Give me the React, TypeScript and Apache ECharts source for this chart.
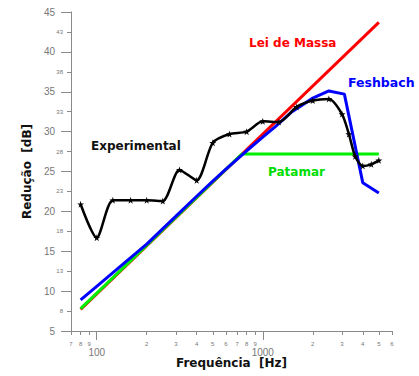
import React, { useEffect, useRef } from "react";
import * as echarts from "echarts";

// Experimental curve (Hz, dB)
const freqExp = [80, 100, 125, 160, 200, 250, 315, 400, 500, 630, 800, 1000, 1250, 1600, 2000, 2500, 3000, 3300, 3600, 4000, 4500, 5000];
const dbExp = [20.9, 16.7, 21.4, 21.4, 21.4, 21.3, 25.2, 23.9, 28.6, 29.7, 30.0, 31.3, 31.2, 33.1, 33.9, 34.1, 32.2, 29.7, 26.9, 25.7, 25.9, 26.4];

// Mass law
const freqMass = [80, 5000];
const dbMass = [7.7, 43.7];

// Plateau model
const freqPlat = [80, 750, 5000];
const dbPlat = [7.8, 27.2, 27.2];

// Feshbach model
const freqFesh = [80, 100, 150, 200, 300, 400, 500, 600, 800, 1000, 1200, 1500, 2000, 2500, 3100, 4000, 5000];
const dbFesh = [8.9, 10.6, 13.7, 15.9, 19.4, 21.9, 23.8, 25.3, 27.6, 29.3, 30.7, 32.5, 34.2, 35.1, 34.7, 23.6, 22.3];

// Axis ticks
const xMinorTicks = [70, 80, 90, 200, 300, 400, 500, 600, 700, 800, 900, 2000, 3000, 4000, 5000, 6000];
const xMajorTicks = [100, 1000];
const xMin = 70;
const xMax = 6000;
const yMajorTicks = [5, 10, 15, 20, 25, 30, 35, 40, 45];
const yMinorTicks = [7.5, 12.5, 17.5, 22.5, 27.5, 32.5, 37.5, 42.5];

const STAR = "path://M50,0 L61,35 L98,35 L68,57 L79,91 L50,70 L21,91 L32,57 L2,35 L39,35 Z";

const toPts = (f: number[], d: number[]) => f.map((v, i) => [Math.log10(v), d[i]]);

export default function App() {
  const ref = useRef<HTMLDivElement>(null);
  useEffect(() => {
    if (!ref.current) return;
    const chart = echarts.init(ref.current, null, { renderer: "svg" });
    const lmin = Math.log10(xMin);
    const lmax = Math.log10(xMax);
    const axisColor = "#8a8a8a";
    const labelColor = "#777";
    const boldFont = "DejaVu Sans";
    chart.setOption({
      animation: false,
      backgroundColor: "#fff",
      grid: { left: 71, right: 27, top: 12, bottom: 45, containLabel: false, outerBoundsMode: "none" },
      xAxis: [
        {
          type: "value",
          min: lmin,
          max: lmax,
          position: "bottom",
          splitLine: { show: false },
          axisLine: { show: true, lineStyle: { color: axisColor, width: 1 } },
          axisTick: { show: true, customValues: xMinorTicks.map(Math.log10), length: 4, lineStyle: { color: axisColor } },
          axisLabel: {
            customValues: xMinorTicks.map(Math.log10),
            formatter: (v: number) => String(Math.round(Math.pow(10, v)))[0],
            fontSize: 6,
            color: labelColor,
            margin: 10,
            fontFamily: "Liberation Sans",
          },
          name: "Frequência  [Hz]",
          nameLocation: "middle",
          nameGap: 26,
          nameTextStyle: { fontFamily: boldFont, fontWeight: "bold", fontSize: 12, color: "#111" },
        },
        {
          type: "value",
          min: lmin,
          max: lmax,
          position: "bottom",
          splitLine: { show: false },
          axisLine: { show: false },
          axisTick: { show: true, customValues: xMajorTicks.map(Math.log10), length: 9, lineStyle: { color: axisColor } },
          axisLabel: {
            customValues: xMajorTicks.map(Math.log10),
            formatter: (v: number) => String(Math.round(Math.pow(10, v))),
            fontSize: 10,
            color: labelColor,
            margin: 16,
            fontFamily: "Liberation Sans",
          },
        },
      ],
      yAxis: [
        {
          type: "value",
          min: 5,
          max: 45,
          position: "left",
          splitLine: { show: false },
          axisLine: { show: true, lineStyle: { color: axisColor, width: 1 } },
          axisTick: { show: true, customValues: yMajorTicks, length: 10, lineStyle: { color: axisColor } },
          axisLabel: {
            customValues: yMajorTicks,
            fontSize: 10,
            color: labelColor,
            margin: 16,
            fontFamily: "Liberation Sans",
          },
          name: "Redução  [dB]",
          nameLocation: "middle",
          nameGap: 37,
          nameTextStyle: { fontFamily: boldFont, fontWeight: "bold", fontSize: 12, color: "#111" },
        },
        {
          type: "value",
          min: 5,
          max: 45,
          position: "left",
          splitLine: { show: false },
          axisLine: { show: false },
          axisTick: { show: true, customValues: yMinorTicks, length: 4, lineStyle: { color: axisColor } },
          axisLabel: {
            customValues: yMinorTicks,
            formatter: (v: number) => String(Math.round(v)),
            fontSize: 6,
            color: labelColor,
            margin: 8,
            fontFamily: "Liberation Sans",
          },
        },
      ],
      series: [
        {
          name: "Lei de Massa",
          type: "line",
          data: toPts(freqMass, dbMass),
          showSymbol: false,
          lineStyle: { color: "#ff0000", width: 3 },
          z: 2,
        },
        {
          name: "Patamar",
          type: "line",
          data: toPts(freqPlat, dbPlat),
          showSymbol: false,
          lineStyle: { color: "#00ee00", width: 3 },
          z: 3,
        },
        {
          name: "Feshbach",
          type: "line",
          data: toPts(freqFesh, dbFesh),
          showSymbol: false,
          lineStyle: { color: "#0000ff", width: 3 },
          z: 4,
        },
        {
          name: "Experimental",
          type: "line",
          data: toPts(freqExp, dbExp),
          smooth: 0.25,
          symbol: STAR,
          symbolSize: 7,
          itemStyle: { color: "#000" },
          lineStyle: { color: "#000", width: 2.5 },
          z: 5,
        },
      ],
      graphic: [
        { type: "text", left: 249, top: 37, style: { text: "Lei de Massa", fill: "#ff0000", font: `bold 12px "${boldFont}"` } },
        { type: "text", left: 348, top: 76, style: { text: "Feshbach", fill: "#0000ff", font: `bold 12.5px "${boldFont}"` } },
        { type: "text", left: 91, top: 140, style: { text: "Experimental", fill: "#111", font: `bold 12px "${boldFont}"` } },
        { type: "text", left: 268, top: 166, style: { text: "Patamar", fill: "#00dd00", font: `bold 12px "${boldFont}"` } },
      ],
    });
    return () => chart.dispose();
  }, []);
  return <div ref={ref} style={{ position: "fixed", left: 0, top: 0, width: 419, height: 376, background: "#fff" }} />;
}
